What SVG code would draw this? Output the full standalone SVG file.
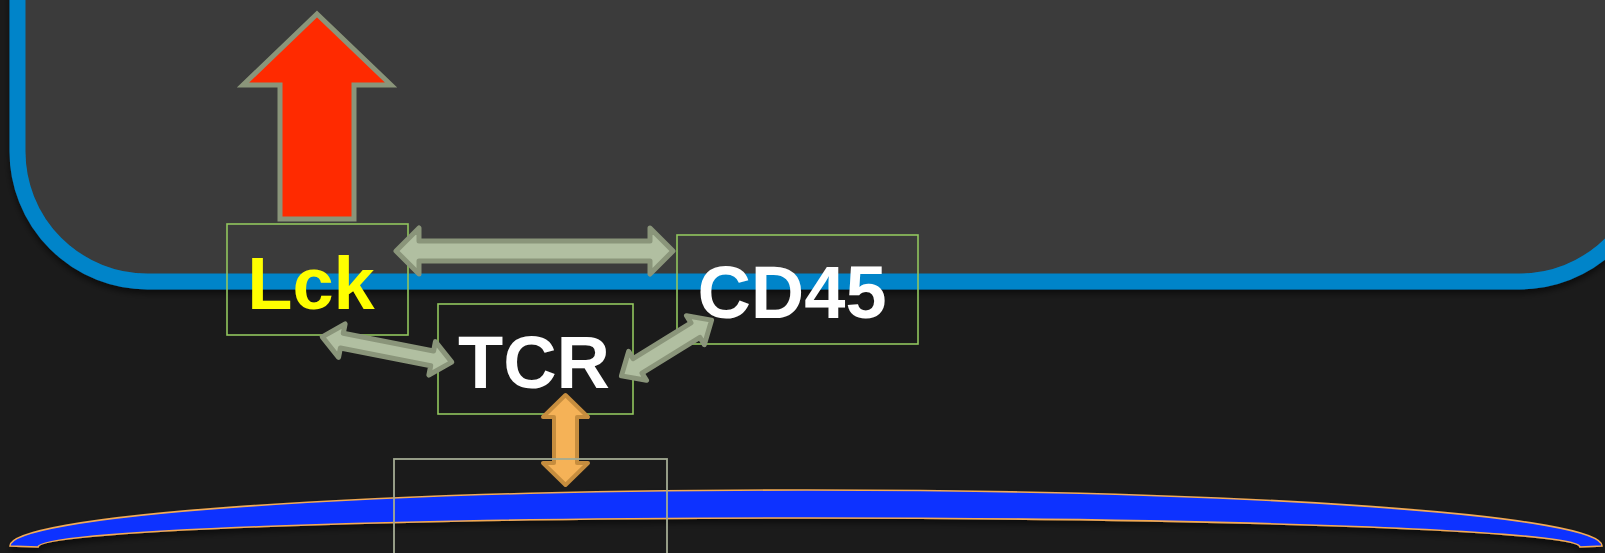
<svg xmlns="http://www.w3.org/2000/svg" width="1605" height="553" viewBox="0 0 1605 553">
<style>
.box{fill:none;stroke:#92c65e;stroke-width:1.6}
.lbl{font-family:"Liberation Sans",Arial,sans-serif;font-weight:bold;font-size:74px;text-anchor:middle}
.dbl{fill:#b1bfa1;stroke:#8a957a;stroke-width:5;stroke-linejoin:round}
</style>
<defs>
<filter id="sh" x="-5%" y="-5%" width="110%" height="120%">
<feDropShadow dx="0" dy="4" stdDeviation="3" flood-color="#000" flood-opacity="0.55"/>
</filter>
</defs>
<rect width="1605" height="553" fill="#1b1b1b"/>
<g id="cell">
<rect x="17.5" y="-300" width="1632" height="581.5" rx="130" ry="130" fill="#3a3a3a" stroke="#0084c9" stroke-width="16" filter="url(#sh)"/>
</g>
<g id="membrane">
<path d="M10,546 A796,56 0 0 1 1602,546 L1580,547 A771,29 0 0 0 38,547 Z" fill="#0a32ff" stroke="#f2aa55" stroke-width="1.6" filter="url(#sh)"/>
</g>
<g id="signal">
<polygon points="317,14 391,85 354,85 354,219 280,219 280,85 243,85" fill="#ff2a00" stroke="#8a957a" stroke-width="5"/>
</g>
<g id="lck">
<rect class="box" x="227" y="224" width="181" height="111"/>
<text class="lbl" x="311" y="309" fill="#ffff00">Lck</text>
</g>
<g id="tcr">
<rect class="box" x="438" y="304" width="195" height="110"/>
<text class="lbl" x="534" y="388" fill="#ffffff">TCR</text>
</g>
<g id="cd45">
<rect class="box" x="677" y="235" width="241" height="109"/>
<text class="lbl" x="792" y="318" fill="#ffffff">CD45</text>
</g>
<g id="connectors">
<polygon class="dbl" transform="translate(534.5,251)" points="-138.5,0 -115.5,-23 -115.5,-10 115.5,-10 115.5,-23 138.5,0 115.5,23 115.5,10 -115.5,10 -115.5,23"/>
<polygon class="dbl" transform="translate(387,349.5) rotate(11.07)" points="-66,0 -46,-17 -46,-7.5 46,-7.5 46,-17 66,0 46,17 46,7.5 -46,7.5 -46,17"/>
<polygon class="dbl" transform="translate(666.5,348) rotate(-31.7)" points="-53,0 -34,-17 -34,-8.5 34,-8.5 34,-17 53,0 34,17 34,8.5 -34,8.5 -34,17"/>
<polygon transform="translate(565.5,440) rotate(90)" points="-45,0 -23,-22.5 -23,-11.5 23,-11.5 23,-22.5 45,0 23,22.5 23,11.5 -23,11.5 -23,22.5" fill="#f5b257" stroke="#c68d3e" stroke-width="4" stroke-linejoin="round"/>
</g>
<g id="receptor">
<rect x="394" y="459" width="273" height="120" fill="none" stroke="#a3ab93" stroke-width="1.8"/>
</g>
</svg>
